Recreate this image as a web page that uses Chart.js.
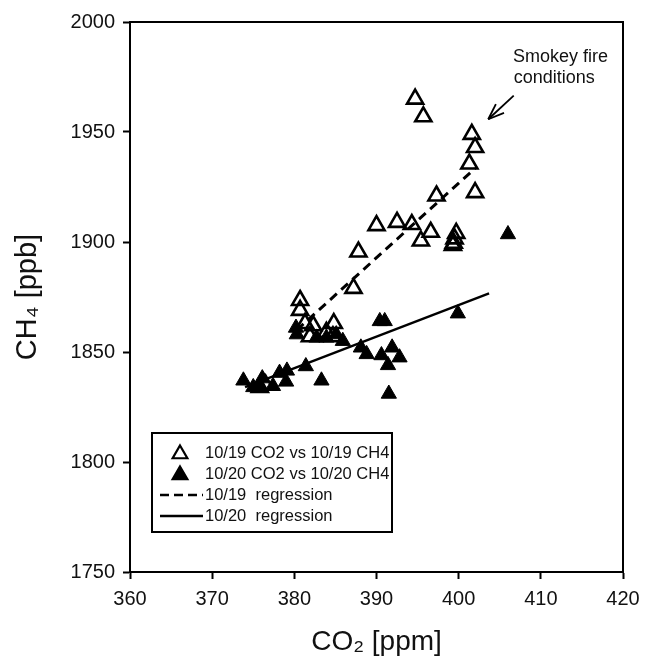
<!DOCTYPE html>
<html>
<head>
<meta charset="utf-8">
<script src="https://cdn.jsdelivr.net/npm/chart.js@4/dist/chart.umd.min.js"></script>
<style>
  html, body { margin: 0; padding: 0; background: #fff; }
</style>
</head>
<body>
<canvas id="myChart" width="645" height="661"></canvas>
<script>
// 10/19 (open triangles)
const co2_1019 = [394.7, 395.7, 401.6, 402.0, 401.3, 402.0, 397.3, 390.0, 392.5, 394.3, 396.6, 395.4,
  399.7, 399.5, 399.4, 399.3, 387.8, 387.2, 380.7, 380.7, 381.3, 382.3, 381.9, 384.8, 383.9, 384.7, 375.8, 376.5];
const ch4_1019 = [1965, 1957, 1949, 1943, 1935.5, 1922.5, 1921, 1907.5, 1909, 1908, 1904.5, 1900.5,
  1904, 1901.5, 1899.5, 1898.5, 1895.5, 1879, 1873.5, 1869, 1863, 1862, 1857, 1863, 1859, 1857, 1834, 1835];

// 10/20 (filled triangles)
const co2_1020 = [406.0, 390.4, 391.0, 399.9, 380.2, 380.3, 382.7, 383.9, 385.1, 385.9, 388.1, 388.8, 391.9,
  390.6, 392.8, 391.4, 391.5, 381.4, 379.1, 378.2, 379.0, 383.3, 373.8, 376.1, 377.4, 375.8, 375.0];
const ch4_1020 = [1903.5, 1864, 1864, 1867.5, 1861, 1858, 1856.5, 1856.5, 1858, 1855, 1852, 1849, 1852,
  1848.5, 1847.5, 1844, 1831, 1843.5, 1841.5, 1840.5, 1836.5, 1837, 1837, 1838, 1834.5, 1834, 1834];

// regression lines (end points)
const reg1019_x = [380.3, 402.0];
const reg1019_y = [1860, 1933.5];
const reg1020_x = [374.0, 403.7];
const reg1020_y = [1834, 1876.7];

const labels = ["10/19 CO2 vs 10/19 CH4", "10/20 CO2 vs 10/20 CH4", "10/19  regression", "10/20  regression"];
const xTicks = [360, 370, 380, 390, 400, 410, 420];
const yTicks = [1750, 1800, 1850, 1900, 1950, 2000];
const noteLines = ["Smokey fire", "conditions"];

function pares(xs, ys) {
  return xs.map((x, i) => ({ x: x, y: ys[i] }));
}

const FONT = "'Liberation Sans', Arial, Helvetica, sans-serif";

function triangulo(ctx, x, y, r, filled) {
  ctx.beginPath();
  ctx.moveTo(x, y - r);
  ctx.lineTo(x + r * 0.866, y + r / 2);
  ctx.lineTo(x - r * 0.866, y + r / 2);
  ctx.closePath();
  if (filled) ctx.fill();
  ctx.stroke();
}

// marco, leyenda y nota dibujados encima
const extras = {
  id: "extras",
  afterDraw(chart) {
    const ctx = chart.ctx;
    const a = chart.chartArea;
    const sx = chart.scales.x, sy = chart.scales.y;
    const ds = chart.data.datasets;
    ctx.save();
    ctx.strokeStyle = "#000";
    ctx.fillStyle = "#000";
    ctx.lineWidth = 2;
    ctx.strokeRect(a.left, a.top, a.right - a.left, a.bottom - a.top);

    // leyenda
    const bx = a.left + 22, by = a.top + 411, bw = 240, bh = 99;
    ctx.strokeRect(bx, by, bw, bh);
    const rows = [by + 20, by + 41, by + 62, by + 83];
    ctx.lineWidth = 2.2;
    triangulo(ctx, bx + 28, rows[0] + 1, 8.5, false);
    triangulo(ctx, bx + 28, rows[1] + 1, 8.5, true);
    ctx.lineWidth = 2.5;
    ctx.setLineDash([9, 5]);
    ctx.beginPath(); ctx.moveTo(bx + 8, rows[2]); ctx.lineTo(bx + 51, rows[2]); ctx.stroke();
    ctx.setLineDash([]);
    ctx.beginPath(); ctx.moveTo(bx + 8, rows[3]); ctx.lineTo(bx + 51, rows[3]); ctx.stroke();
    ctx.font = "16.5px " + FONT;
    ctx.textBaseline = "middle";
    ctx.fillStyle = "#111";
    ds.forEach((d, i) => ctx.fillText(d.label, bx + 53, rows[i]));

    // nota con flecha
    ctx.font = "18px " + FONT;
    ctx.textBaseline = "alphabetic";
    ctx.fillText(noteLines[0], sx.getPixelForValue(406.6), sy.getPixelForValue(1982));
    ctx.fillText(noteLines[1], sx.getPixelForValue(406.7), sy.getPixelForValue(1972.5));
    const x0 = sx.getPixelForValue(406.7), y0 = sy.getPixelForValue(1966.5);
    const x1 = sx.getPixelForValue(403.6), y1 = sy.getPixelForValue(1955.8);
    ctx.lineWidth = 1.8;
    ctx.beginPath(); ctx.moveTo(x0, y0); ctx.lineTo(x1, y1); ctx.stroke();
    const ang = Math.atan2(y0 - y1, x0 - x1);
    [0.36, -0.36].forEach((d) => {
      ctx.beginPath();
      ctx.moveTo(x1, y1);
      ctx.lineTo(x1 + 17 * Math.cos(ang + d), y1 + 17 * Math.sin(ang + d));
      ctx.stroke();
    });
    ctx.restore();
  }
};

const config = {
  type: "scatter",
  data: {
    datasets: [
      {
        label: labels[0],
        data: pares(co2_1019, ch4_1019),
        pointStyle: "triangle",
        pointRadius: 9.3,
        borderColor: "#000",
        backgroundColor: "rgba(0,0,0,0)",
        borderWidth: 2.6
      },
      {
        label: labels[1],
        data: pares(co2_1020, ch4_1020),
        pointStyle: "triangle",
        pointRadius: 8.8,
        borderColor: "#000",
        backgroundColor: "#000",
        borderWidth: 1
      },
      {
        label: labels[2],
        data: pares(reg1019_x, reg1019_y),
        showLine: true,
        pointRadius: 0,
        borderColor: "#000",
        borderWidth: 3,
        borderDash: [9, 6]
      },
      {
        label: labels[3],
        data: pares(reg1020_x, reg1020_y),
        showLine: true,
        pointRadius: 0,
        borderColor: "#000",
        borderWidth: 2.4
      }
    ]
  },
  options: {
    responsive: false,
    animation: false,
    layout: { padding: { top: 22, right: 22, left: 0, bottom: 0 } },
    plugins: { legend: { display: false }, tooltip: { enabled: false } },
    scales: {
      x: {
        type: "linear",
        min: 360, max: 420,
        afterBuildTicks: (s) => { s.ticks = xTicks.map((v) => ({ value: v })); },
        afterFit: (s) => { s.height = 89; s.paddingRight = 0; s.paddingLeft = 0; },
        ticks: { font: { size: 20, family: FONT }, color: "#111", padding: 8, callback: (v) => String(v) },
        grid: { drawOnChartArea: false, tickLength: 7, tickWidth: 2, tickColor: "#000" },
        border: { color: "#000", width: 2 },
        title: { display: true, text: "CO\u2082 [ppm]", color: "#111",
          font: { size: 28, family: FONT }, padding: { top: 0, bottom: 2 } }
      },
      y: {
        type: "linear",
        min: 1750, max: 2000,
        afterBuildTicks: (s) => { s.ticks = yTicks.map((v) => ({ value: v })); },
        afterFit: (s) => { s.width = 130; s.paddingTop = 0; s.paddingBottom = 0; },
        ticks: { font: { size: 20, family: FONT }, color: "#111", padding: 8, callback: (v) => String(v) },
        grid: { drawOnChartArea: false, tickLength: 7, tickWidth: 2, tickColor: "#000" },
        border: { color: "#000", width: 2 },
        title: { display: true, text: "CH\u2084 [ppb]", color: "#111",
          font: { size: 29, family: FONT }, padding: { top: 11, bottom: 0 } }
      }
    }
  },
  plugins: [extras]
};

new Chart(document.getElementById("myChart").getContext("2d"), config);
</script>
</body>
</html>
